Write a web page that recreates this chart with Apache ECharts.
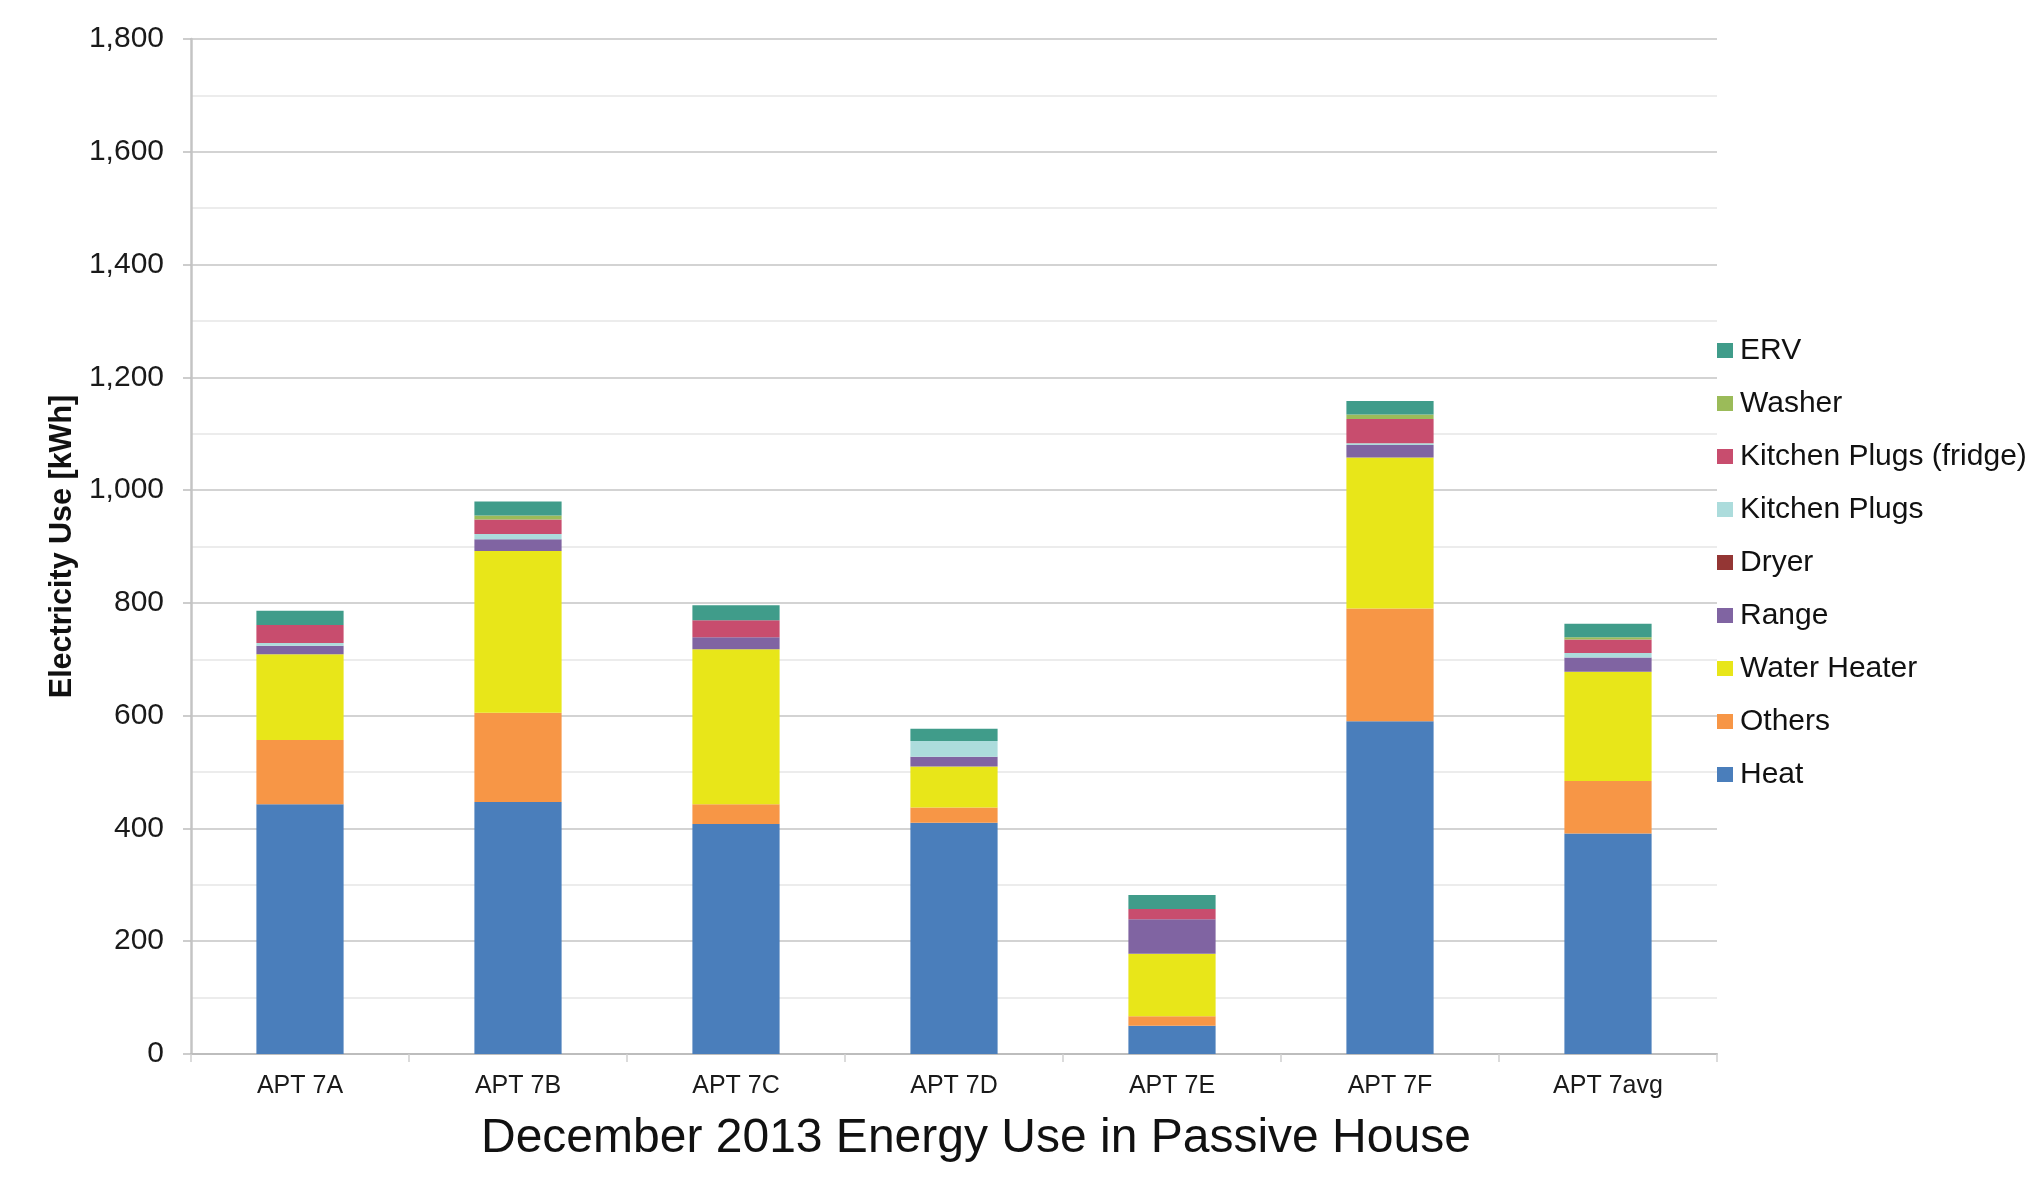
<!DOCTYPE html>
<html>
<head>
<meta charset="utf-8">
<title>December 2013 Energy Use in Passive House</title>
<script src="https://cdn.jsdelivr.net/npm/echarts@6/dist/echarts.min.js"></script>
<style>
  html, body { margin: 0; padding: 0; background: #fff; }
  #chart { width: 2027px; height: 1178px; }
</style>
</head>
<body>
<div id="chart"></div>
<script>
const categories = ["APT 7A", "APT 7B", "APT 7C", "APT 7D", "APT 7E", "APT 7F", "APT 7avg"];

// kWh per end use, bottom of the stack first
const heat = [443, 447, 408, 410, 50, 590, 391];
const others = [114, 158, 35, 27, 17, 200, 93];
const waterHeater = [152, 287, 275, 73, 111, 268, 194];
const range = [15, 21, 21, 17, 61, 22, 25];
const dryer = [0, 0, 0, 0, 0, 0, 0];
const kitchenPlugs = [5, 9, 0, 28, 0, 3, 8];
const kitchenPlugsFridge = [32, 26, 30, 0, 18, 43, 24];
const washer = [0, 7, 0, 0, 0, 8, 4];
const erv = [25, 25, 27, 22, 25, 24, 24];

const yTicks = [0, 200, 400, 600, 800, 1000, 1200, 1400, 1600, 1800];

const seriesDefs = [
  { name: "Heat", data: heat, color: "#4a7ebb" },
  { name: "Others", data: others, color: "#f79646" },
  { name: "Water Heater", data: waterHeater, color: "#e8e619" },
  { name: "Range", data: range, color: "#8064a2" },
  { name: "Dryer", data: dryer, color: "#943634" },
  { name: "Kitchen Plugs", data: kitchenPlugs, color: "#acdcdc" },
  { name: "Kitchen Plugs (fridge)", data: kitchenPlugsFridge, color: "#c84d6e" },
  { name: "Washer", data: washer, color: "#9bbb59" },
  { name: "ERV", data: erv, color: "#409c8a" },
];

const myChart = echarts.init(document.getElementById("chart"));

const option = {
  animation: false,
  backgroundColor: "#fff",
  textStyle: {
    fontFamily: "'Liberation Sans', Arial, sans-serif",
  },
  title: {
    text: "December 2013 Energy Use in Passive House",
    left: 476,
    top: 1110,
    textStyle: {
      fontSize: 48,
      fontWeight: "normal",
      color: "#111",
    },
  },
  legend: {
    orient: "vertical",
    left: 1712,
    top: 330,
    itemWidth: 16,
    itemHeight: 15,
    itemGap: 22,
    icon: "rect",
    data: seriesDefs.map((s) => s.name).reverse(),
    textStyle: {
      fontSize: 30,
      lineHeight: 31,
      color: "#111",
      padding: [0, 0, 0, 2],
    },
  },
  grid: {
    left: 191,
    right: 310,
    top: 39,
    bottom: 124,
  },
  xAxis: {
    type: "category",
    data: categories,
    axisLine: {
      lineStyle: { color: "#bdbdbd", width: 2 },
    },
    axisTick: {
      show: true,
      length: 8,
      lineStyle: { color: "#d0d0d0", width: 1.5 },
    },
    axisLabel: {
      fontSize: 25,
      color: "#1a1a1a",
      margin: 20,
    },
  },
  yAxis: {
    type: "value",
    min: yTicks[0],
    max: yTicks[yTicks.length - 1],
    interval: 200,
    name: "Electricity Use [kWh]",
    nameLocation: "middle",
    nameGap: 110,
    nameTextStyle: {
      fontSize: 30.5,
      fontWeight: "bold",
      color: "#111",
    },
    axisLine: {
      show: true,
      lineStyle: { color: "#c4c4c4", width: 2.5 },
    },
    axisTick: {
      show: true,
      length: 8,
      lineStyle: { color: "#bdbdbd", width: 1.5 },
    },
    axisLabel: {
      fontSize: 30,
      color: "#1a1a1a",
      margin: 27,
      formatter: (v) => v.toLocaleString("en-US"),
    },
    splitLine: {
      lineStyle: { color: "#c4c4c4", width: 1.5 },
    },
    minorTick: {
      show: false,
      splitNumber: 2,
    },
    minorSplitLine: {
      show: true,
      lineStyle: { color: "#e6e6e6", width: 1.5 },
    },
  },
  series: seriesDefs.map((s) => ({
    name: s.name,
    type: "bar",
    stack: "total",
    barWidth: "40%",
    data: s.data,
    itemStyle: { color: s.color },
  })),
};

myChart.setOption(option);
</script>
</body>
</html>
